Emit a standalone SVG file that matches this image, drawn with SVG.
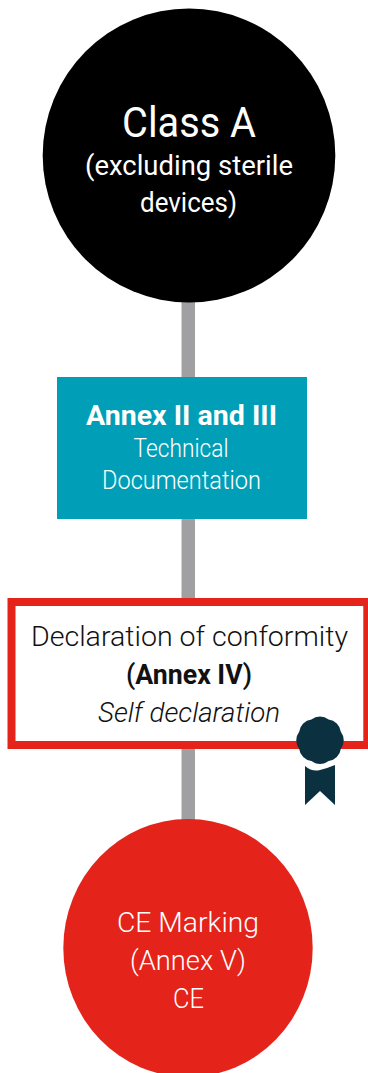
<svg xmlns="http://www.w3.org/2000/svg" width="368" height="1073" viewBox="0 0 368 1073">
<style>
text{font-family:Roboto,"Noto Sans",sans-serif;text-anchor:middle;font-size:27px;font-weight:300}
.w{fill:#fff}.k{fill:#111}
.r{font-weight:400}
.b{font-weight:700}
.s{font-size:25px}
.l{font-size:28px}
.badge{fill:#0b3040}
</style>
<rect width="368" height="1073" fill="#fff"/>
<g id="connectors"><rect x="181.500" y="290" width="13.500" height="540" fill="#a0a0a2"/></g>
<g id="class-a"><ellipse cx="189" cy="155.500" rx="146.300" ry="147" fill="#000"/>
<text class="w r" x="189" y="137" style="font-size:43px" textLength="134" lengthAdjust="spacingAndGlyphs">Class A</text>
<text class="w r" x="189" y="175" textLength="208" lengthAdjust="spacingAndGlyphs">(excluding sterile</text>
<text class="w r" x="188.500" y="212" textLength="97" lengthAdjust="spacingAndGlyphs">devices)</text></g>
<g id="annex-ii"><rect x="57" y="377" width="250" height="142" fill="#009fb7"/>
<text class="w b l" x="181.500" y="425" textLength="191" lengthAdjust="spacingAndGlyphs">Annex II and III</text>
<text class="w s" x="181" y="457" textLength="95" lengthAdjust="spacingAndGlyphs">Technical</text>
<text class="w s" x="181.500" y="489" textLength="159" lengthAdjust="spacingAndGlyphs">Documentation</text></g>
<g id="declaration"><rect x="11.500" y="602" width="355.800" height="143" fill="#fff" stroke="#e4231a" stroke-width="8"/>
<text class="k" x="189.500" y="646" textLength="317" lengthAdjust="spacingAndGlyphs">Declaration of conformity</text>
<text class="k" x="189" y="684" style="font-weight:500" textLength="126" lengthAdjust="spacingAndGlyphs">(<tspan class="b">Annex IV</tspan>)</text>
<text class="k" x="189" y="722" font-style="italic" textLength="182" lengthAdjust="spacingAndGlyphs">Self declaration</text></g>
<g id="badge"><path class="badge" d="M305 766Q312 772 320 770T335 765V805L320 791 305 805z"/><path class="badge" d="M340.800 748.900A14 14 0 0 1 328.600 761.100A14 14 0 0 1 311.400 761.100A14 14 0 0 1 299.200 748.900A14 14 0 0 1 299.200 731.700A14 14 0 0 1 311.400 719.500A14 14 0 0 1 328.600 719.500A14 14 0 0 1 340.800 731.700A14 14 0 0 1 340.800 748.900z"/></g>
<g id="ce"><ellipse cx="188" cy="948" rx="124.700" ry="129" fill="#e4231a"/>
<text class="w l" x="188" y="932" textLength="142" lengthAdjust="spacingAndGlyphs">CE Marking</text>
<text class="w l" x="188" y="970" textLength="116" lengthAdjust="spacingAndGlyphs">(Annex V)</text>
<text class="w l" x="188.500" y="1008" textLength="31" lengthAdjust="spacingAndGlyphs">CE</text></g>
</svg>
